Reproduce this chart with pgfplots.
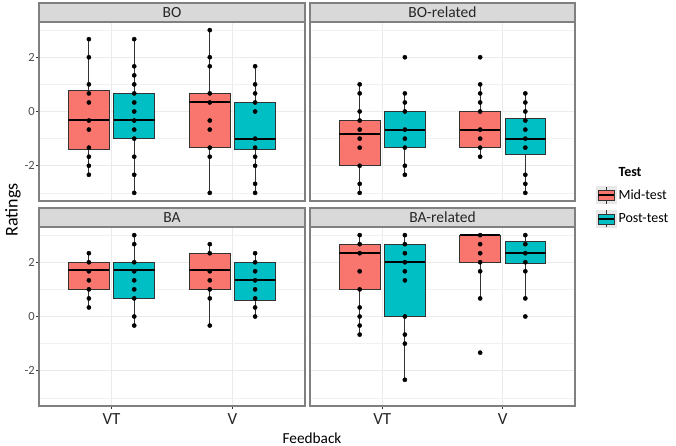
\documentclass[border=0pt]{standalone}
\usepackage{pgfplots}
\pgfplotsset{compat=1.18}
\usepgfplotslibrary{statistics}
\usepackage{fontspec}
\setmainfont{Carlito}
\definecolor{midc}{HTML}{F8766D}
\definecolor{postc}{HTML}{00BFC4}
\definecolor{edge}{HTML}{333333}
\definecolor{border}{HTML}{808080}
\definecolor{stripc}{HTML}{D9D9D9}
\definecolor{gridc}{HTML}{EBEBEB}
\definecolor{ticklab}{HTML}{4D4D4D}
\pgfplotsset{
  panel/.style={
    scale only axis, width=266pt, height=179pt,
    xmin=0.4, xmax=2.6, ymin=-3.3, ymax=3.3,
    xtick={1,2}, ytick={-2,0,2}, minor ytick={-3,-1,1,3},
    grid=both,
    major grid style={gridc, line width=0.9pt},
    minor grid style={gridc!70, line width=0.5pt},
    axis line style={border, line width=1.1pt},
    tick align=outside, major tick length=3pt, minor tick length=0pt,
    tick style={edge, line width=0.6pt},
    xtick pos=bottom, ytick pos=left,
    clip=false,
    yticklabel style={font=\fontsize{12.5}{14}\selectfont, text=ticklab, inner sep=1pt},
    xticklabel style={font=\fontsize{17}{19}\selectfont, text=black!85, inner sep=1pt, yshift=-3pt},
    boxplot/draw direction=y,
    boxplot/box extend=0.3375,
    boxplot/whisker extend=0,
    boxplot/every median/.style={black, line width=1.9pt},
    boxplot/every whisker/.style={edge, line width=0.8pt},
  },
  noxt/.style={xticklabels={}, every x tick/.style={draw=none}},
  noyt/.style={yticklabels={}, every y tick/.style={draw=none}},
  yt/.style={yticklabels={-2,0,2}},
  xt/.style={xticklabels={VT,V}},
  mbox/.style={fill=midc, draw=edge, line width=0.7pt, forget plot},
  pbox/.style={fill=postc, draw=edge, line width=0.7pt, forget plot},
  pts/.style={only marks, mark=*, mark size=2.1pt, black, forget plot},
}
\newcommand{\strip}[1]{%
  \draw[fill=stripc, draw=border, line width=1.1pt] (rel axis cs:0,1) rectangle ([yshift=19pt]rel axis cs:1,1);
  \node[font=\fontsize{15.5}{17}\selectfont, text=black!85] at ([yshift=9.5pt]rel axis cs:0.5,1) {#1};
}
\begin{document}
\begin{tikzpicture}
\useasboundingbox (0,0) rectangle (676pt,-446pt);
% ---------------- BO ----------------
\begin{axis}[panel, noxt, yt, at={(39pt,-201pt)}, anchor=south west]
\addplot[mbox, boxplot prepared={draw position=0.8125, lower whisker=-2.333, lower quartile=-1.40, median=-0.30, upper quartile=0.77, upper whisker=2.667}] coordinates {};
\addplot[pbox, boxplot prepared={draw position=1.1875, lower whisker=-3, lower quartile=-1.0, median=-0.30, upper quartile=0.66, upper whisker=2.667}] coordinates {};
\addplot[mbox, boxplot prepared={draw position=1.8125, lower whisker=-3, lower quartile=-1.34, median=0.36, upper quartile=0.67, upper whisker=3}] coordinates {};
\addplot[pbox, boxplot prepared={draw position=2.1875, lower whisker=-3, lower quartile=-1.40, median=-1.0, upper quartile=0.34, upper whisker=1.667}] coordinates {};
\addplot[pts] coordinates {(0.8125,2.667) (0.8125,2) (0.8125,1) (0.8125,0.667) (0.8125,0.333) (0.8125,-0.333) (0.8125,-0.667) (0.8125,-1.333) (0.8125,-1.667) (0.8125,-2) (0.8125,-2.333)};
\addplot[pts] coordinates {(1.1875,2.667) (1.1875,1.667) (1.1875,1.333) (1.1875,1) (1.1875,0.667) (1.1875,0.333) (1.1875,0) (1.1875,-0.333) (1.1875,-0.667) (1.1875,-1) (1.1875,-1.667) (1.1875,-2.333) (1.1875,-3)};
\addplot[pts] coordinates {(1.8125,3) (1.8125,2) (1.8125,1.667) (1.8125,0.667) (1.8125,0.333) (1.8125,-0.333) (1.8125,-0.667) (1.8125,-1.333) (1.8125,-1.667) (1.8125,-3)};
\addplot[pts] coordinates {(2.1875,1.667) (2.1875,1) (2.1875,0.667) (2.1875,0.333) (2.1875,0) (2.1875,-1) (2.1875,-1.333) (2.1875,-1.667) (2.1875,-2) (2.1875,-2.667) (2.1875,-3)};
\strip{BO}
\end{axis}
% ---------------- BO-related ----------------
\begin{axis}[panel, noxt, noyt, width=265pt, at={(310pt,-201pt)}, anchor=south west,
  legend style={at={(1.079,0.198)}, anchor=north west, draw=none, fill=none,
    font=\fontsize{14}{16}\selectfont, inner sep=0pt, row sep=6pt, cells={anchor=west}},
  legend cell align=left]
\addlegendimage{empty legend}
\addlegendentry{\textbf{Test}}
\addlegendimage{legend image code/.code={
  \fill[gray!18] (0pt,-8.5pt) rectangle (20pt,8.5pt);
  \draw[edge, line width=0.7pt] (10pt,-8.5pt) -- (10pt,8.5pt);
  \draw[fill=midc, draw=edge, line width=0.7pt] (2pt,-5pt) rectangle (18pt,5pt);
  \draw[black, line width=1.4pt] (2pt,0pt) -- (18pt,0pt);}}
\addlegendentry{Mid-test}
\addlegendimage{legend image code/.code={
  \fill[gray!18] (0pt,-8.5pt) rectangle (20pt,8.5pt);
  \draw[edge, line width=0.7pt] (10pt,-8.5pt) -- (10pt,8.5pt);
  \draw[fill=postc, draw=edge, line width=0.7pt] (2pt,-5pt) rectangle (18pt,5pt);
  \draw[black, line width=1.4pt] (2pt,0pt) -- (18pt,0pt);}}
\addlegendentry{Post-test}
\addplot[mbox, boxplot prepared={draw position=0.8125, lower whisker=-3, lower quartile=-2.0, median=-0.82, upper quartile=-0.32, upper whisker=1}] coordinates {};
\addplot[pbox, boxplot prepared={draw position=1.1875, lower whisker=-2.333, lower quartile=-1.333, median=-0.667, upper quartile=0, upper whisker=0.667}] coordinates {};
\addplot[mbox, boxplot prepared={draw position=1.8125, lower whisker=-1.667, lower quartile=-1.333, median=-0.667, upper quartile=0, upper whisker=1}] coordinates {};
\addplot[pbox, boxplot prepared={draw position=2.1875, lower whisker=-3, lower quartile=-1.59, median=-1.0, upper quartile=-0.26, upper whisker=0.667}] coordinates {};
\addplot[pts] coordinates {(0.8125,1) (0.8125,0.667) (0.8125,0) (0.8125,-0.333) (0.8125,-0.667) (0.8125,-1) (0.8125,-1.333) (0.8125,-2) (0.8125,-2.667) (0.8125,-3)};
\addplot[pts] coordinates {(1.1875,2) (1.1875,0.667) (1.1875,0.333) (1.1875,0) (1.1875,-0.667) (1.1875,-1) (1.1875,-1.333) (1.1875,-2) (1.1875,-2.333)};
\addplot[pts] coordinates {(1.8125,2) (1.8125,1) (1.8125,0.667) (1.8125,0.333) (1.8125,0) (1.8125,-0.667) (1.8125,-1) (1.8125,-1.333) (1.8125,-1.667)};
\addplot[pts] coordinates {(2.1875,0.667) (2.1875,0.333) (2.1875,0) (2.1875,-0.333) (2.1875,-0.667) (2.1875,-1) (2.1875,-1.333) (2.1875,-2.333) (2.1875,-2.667) (2.1875,-3)};
\strip{BO-related}
\end{axis}
% ---------------- BA ----------------
\begin{axis}[panel, xt, yt, at={(39pt,-406pt)}, anchor=south west]
\addplot[mbox, boxplot prepared={draw position=0.8125, lower whisker=0.333, lower quartile=1, median=1.7, upper quartile=2, upper whisker=2.333}] coordinates {};
\addplot[pbox, boxplot prepared={draw position=1.1875, lower whisker=-0.333, lower quartile=0.667, median=1.7, upper quartile=2, upper whisker=3}] coordinates {};
\addplot[mbox, boxplot prepared={draw position=1.8125, lower whisker=-0.333, lower quartile=1, median=1.7, upper quartile=2.333, upper whisker=2.667}] coordinates {};
\addplot[pbox, boxplot prepared={draw position=2.1875, lower whisker=0, lower quartile=0.58, median=1.35, upper quartile=2, upper whisker=2.333}] coordinates {};
\addplot[pts] coordinates {(0.8125,2.333) (0.8125,2) (0.8125,1.667) (0.8125,1.333) (0.8125,1) (0.8125,0.667) (0.8125,0.333)};
\addplot[pts] coordinates {(1.1875,3) (1.1875,2.667) (1.1875,2) (1.1875,1.667) (1.1875,1.333) (1.1875,1) (1.1875,0.667) (1.1875,0) (1.1875,-0.333)};
\addplot[pts] coordinates {(1.8125,2.667) (1.8125,2.333) (1.8125,1.667) (1.8125,1.333) (1.8125,1) (1.8125,0.667) (1.8125,-0.333)};
\addplot[pts] coordinates {(2.1875,2.333) (2.1875,2) (2.1875,1.667) (2.1875,1.333) (2.1875,1) (2.1875,0.667) (2.1875,0.333) (2.1875,0)};
\strip{BA}
\end{axis}
% ---------------- BA-related ----------------
\begin{axis}[panel, xt, noyt, width=265pt, at={(310pt,-406pt)}, anchor=south west]
\addplot[mbox, boxplot prepared={draw position=0.8125, lower whisker=-0.667, lower quartile=1, median=2.35, upper quartile=2.667, upper whisker=3}] coordinates {};
\addplot[pbox, boxplot prepared={draw position=1.1875, lower whisker=-2.333, lower quartile=0, median=2, upper quartile=2.667, upper whisker=3}] coordinates {};
\addplot[mbox, boxplot prepared={draw position=1.8125, lower whisker=0.667, lower quartile=2, median=3, upper quartile=3, upper whisker=3}] coordinates {};
\addplot[pbox, boxplot prepared={draw position=2.1875, lower whisker=0.667, lower quartile=1.95, median=2.35, upper quartile=2.78, upper whisker=3}] coordinates {};
\addplot[pts] coordinates {(0.8125,3) (0.8125,2.667) (0.8125,2.333) (0.8125,1.667) (0.8125,1) (0.8125,0.333) (0.8125,0) (0.8125,-0.333) (0.8125,-0.667)};
\addplot[pts] coordinates {(1.1875,3) (1.1875,2.667) (1.1875,2.333) (1.1875,2) (1.1875,1.667) (1.1875,1.333) (1.1875,0) (1.1875,-0.667) (1.1875,-1) (1.1875,-2.333)};
\addplot[pts] coordinates {(1.8125,3) (1.8125,2.667) (1.8125,2.333) (1.8125,2) (1.8125,1.667) (1.8125,0.667) (1.8125,-1.333)};
\addplot[pts] coordinates {(2.1875,3) (2.1875,2.667) (2.1875,2.333) (2.1875,2) (2.1875,1.667) (2.1875,0.667) (2.1875,0)};
\strip{BA-related}
\end{axis}
\node[rotate=90, font=\fontsize{18}{20}\selectfont] at (13pt,-210pt) {Ratings};
\node[font=\fontsize{15.3}{17}\selectfont] at (312pt,-438pt) {Feedback};
\end{tikzpicture}
\end{document}
